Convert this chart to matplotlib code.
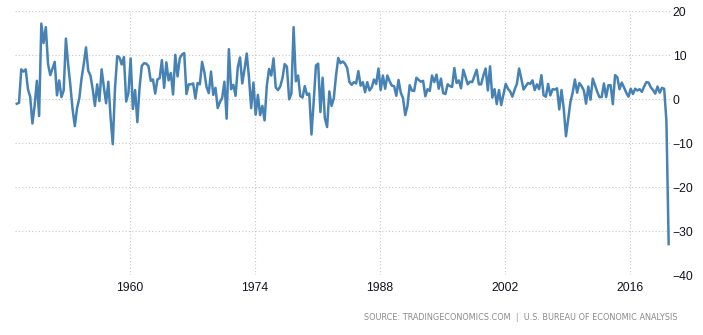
import numpy as np
import pandas as pd
import matplotlib
matplotlib.use("Agg")
import matplotlib.pyplot as plt

# US real GDP growth, annualized q/q %, 1947Q2 - 2020Q2
quarters = pd.period_range("1947Q2", "2020Q2", freq="Q")
gdp_growth = [
    -1.0, -0.8, 6.8,             # 1947
    6.3, 6.8, 2.3, 0.6,          # 1948
    -5.5, -1.4, 4.2, -3.8,       # 1949
    17.2, 12.8, 16.4, 8.0,       # 1950
    5.5, 7.0, 8.5, 0.9,          # 1951
    4.3, 0.5, 2.0, 13.8,         # 1952
    8.0, 3.2, -2.3, -6.1,        # 1953
    -2.0, 0.2, 4.7, 8.0,         # 1954
    11.8, 6.5, 5.4, 2.3,         # 1955
    -1.5, 3.4, -0.4, 6.8,        # 1956
    2.8, -0.9, 4.0, -4.0,        # 1957
    -10.2, 2.6, 9.8, 9.5,        # 1958
    7.9, 9.6, -0.5, 1.4,         # 1959
    9.3, -2.2, 2.1, -5.2,        # 1960
    2.7, 7.6, 8.2, 8.1,          # 1961
    7.5, 4.2, 4.5, 1.3,          # 1962
    4.5, 4.8, 8.9, 2.6,          # 1963
    8.4, 4.3, 6.0, 1.1,          # 1964
    10.1, 5.2, 9.3, 10.2,        # 1965
    10.5, 1.2, 3.4, 3.4,         # 1966
    3.6, 0.2, 3.7, 3.4,          # 1967
    8.5, 6.2, 2.8, 1.4,          # 1968
    6.3, 1.0, 2.6, -2.0,         # 1969
    -0.6, 0.3, 4.0, -4.4,        # 1970
    11.4, 2.3, 3.3, 0.8,         # 1971
    7.3, 9.5, 3.6, 6.8,          # 1972
    10.4, 5.0, -2.0, 3.8,        # 1973
    -3.5, 1.0, -3.6, -1.5,       # 1974
    -4.8, 3.1, 6.9, 5.4,         # 1975
    9.3, 2.7, 2.1, 2.9,          # 1976
    4.8, 8.0, 7.4, 0.0,          # 1977
    1.3, 16.4, 4.1, 5.4,         # 1978
    0.7, 0.4, 3.0, 1.0,          # 1979
    1.3, -8.0, -0.5, 7.7,        # 1980
    8.1, -2.9, 4.9, -4.3,        # 1981
    -6.3, 1.8, -1.5, 0.2,        # 1982
    5.4, 9.4, 8.2, 8.6,          # 1983
    8.1, 7.1, 3.9, 3.3,          # 1984
    3.9, 3.6, 6.4, 3.1,          # 1985
    3.9, 1.6, 3.9, 2.0,          # 1986
    2.7, 4.5, 3.5, 7.0,          # 1987
    2.1, 5.4, 2.4, 5.4,          # 1988
    4.1, 3.1, 3.0, 0.8,          # 1989
    4.4, 1.5, 0.3, -3.6,         # 1990
    -1.5, 3.2, 2.0, 1.9,         # 1991
    4.9, 4.4, 4.0, 4.2,          # 1992
    0.7, 2.3, 1.9, 5.4,          # 1993
    3.9, 5.6, 2.4, 4.7,          # 1994
    1.4, 1.2, 3.4, 3.0,          # 1995
    2.8, 7.1, 3.7, 4.3,          # 1996
    2.5, 6.7, 5.1, 3.4,          # 1997
    4.0, 3.9, 5.3, 6.7,          # 1998
    3.4, 3.4, 5.4, 7.0,          # 1999
    2.0, 7.5, 0.4, 2.3,          # 2000
    -1.1, 2.1, -1.3, 1.1,        # 2001
    3.5, 2.4, 1.8, 0.6,          # 2002
    2.2, 3.5, 7.0, 4.7,          # 2003
    2.2, 3.0, 3.7, 3.5,          # 2004
    4.3, 2.1, 3.4, 2.3,          # 2005
    5.5, 0.9, 0.6, 3.5,          # 2006
    0.9, 2.3, 2.2, 2.5,          # 2007
    -2.3, 2.1, -2.1, -8.4,       # 2008
    -4.4, -0.6, 1.5, 4.5,        # 2009
    1.5, 3.7, 3.0, 2.0,          # 2010
    -1.0, 2.9, -0.1, 4.7,        # 2011
    3.2, 1.7, 0.5, 0.5,          # 2012
    3.6, 0.5, 3.2, 3.2,          # 2013
    -1.1, 5.5, 5.0, 2.3,         # 2014
    3.8, 2.7, 1.5, 0.6,          # 2015
    2.4, 1.2, 2.4, 2.0,          # 2016
    2.3, 1.7, 2.9, 3.9,          # 2017
    3.8, 2.7, 2.1, 1.3,          # 2018
    2.9, 1.5, 2.6, 2.4,          # 2019
    -5.0, -32.9,                 # 2020
]
year_ticks = [1960, 1974, 1988, 2002, 2016]
value_ticks = [-40, -30, -20, -10, 0, 10, 20]
source_note = "SOURCE: TRADINGECONOMICS.COM  |  U.S. BUREAU OF ECONOMIC ANALYSIS"

# place each quarter at its midpoint in fractional years
t = quarters.year + (quarters.quarter - 0.5) / 4

plt.rcParams["font.family"] = ["Liberation Sans", "DejaVu Sans"]

fig = plt.figure(figsize=(7.03, 3.35), dpi=100)
ax = fig.add_axes([15 / 703, 1 - 275.3 / 335, 655 / 703, 264 / 335])

ax.plot(t, gdp_growth, color="#4682b4", lw=1.8, solid_joinstyle="round")

ax.set_xlim(t[0] - 0.2, t[-1] + 0.15)
ax.set_ylim(-40, 20)
ax.set_xticks(year_ticks)
ax.set_yticks(value_ticks)
ax.yaxis.tick_right()

for s in ax.spines.values():
    s.set_visible(False)
ax.grid(True, color="#c8c8c8", lw=0.8, linestyle=(0, (1, 2)))
ax.set_axisbelow(True)
ax.tick_params(length=0, labelsize=8.8, colors="#141420")
ax.tick_params(axis="x", pad=5)
ax.tick_params(axis="y", pad=2)

fig.text(678 / 703, 1 - 317.7 / 335, source_note, ha="right", va="center",
         fontsize=5.9, color="#8a8a8a", family="DejaVu Sans")

fig.savefig("out.png", dpi=100)
